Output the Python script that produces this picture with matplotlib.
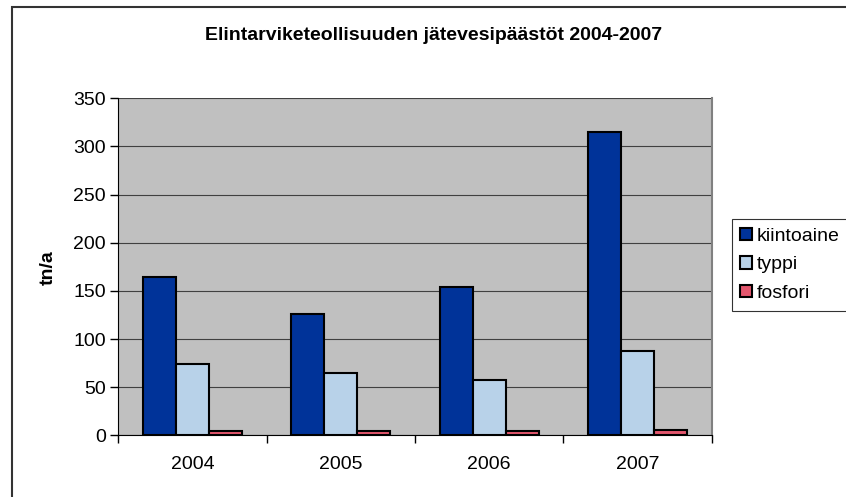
import numpy as np
import matplotlib
matplotlib.use("Agg")
import matplotlib.pyplot as plt
from matplotlib.patches import Rectangle

plt.rcParams['font.family'] = ['Liberation Sans', 'DejaVu Sans']

# Data
vuodet = ['2004', '2005', '2006', '2007']
kiintoaine = [164, 126, 154, 315]
typpi = [74, 65, 57, 88]
fosfori = [5, 4, 4, 6]

sarjat = ['kiintoaine', 'typpi', 'fosfori']
varit = ['#003399', '#B8D2E9', '#E4576E']

fig = plt.figure(figsize=(8.46, 4.97), dpi=100)
# outer chart frame (only left and top edges visible)
fig.add_artist(Rectangle((12 / 846, -0.1), 1.2, (497 - 7) / 497 + 0.1,
                         transform=fig.transFigure, fill=False,
                         edgecolor='#333333', linewidth=1.5))

ax = fig.add_axes([0.1398, 0.1241, 0.7015, 0.6781])
ax.set_facecolor('#C0C0C0')

x = np.arange(len(vuodet))
w = 0.223
for i, (nimi, arvot) in enumerate(zip(sarjat, [kiintoaine, typpi, fosfori])):
    ax.bar(x + (i - 1) * w, arvot, width=w, color=varit[i], edgecolor='black',
           linewidth=1.5, label=nimi, zorder=3)

ax.set_xlim(-0.5, len(vuodet) - 0.5)
ax.set_ylim(0, 350)
ax.set_yticks(np.arange(0, 351, 50))
ax.yaxis.grid(True, color='#404040', linewidth=0.8, zorder=1)
ax.set_axisbelow(True)

ax.set_xticks(x)
ax.set_xticklabels(vuodet, fontsize=14)
ax.set_xticks(np.arange(-0.5, len(vuodet)), minor=True)
ax.tick_params(axis='x', which='major', length=0, pad=15)
ax.tick_params(axis='x', which='minor', length=6, width=1, direction='out')
ax.tick_params(axis='y', length=6, width=1, direction='out', labelsize=14, pad=3)

ax.spines['top'].set_visible(False)
ax.spines['right'].set_color('#808080')
ax.spines['right'].set_linewidth(1.5)
ax.spines['left'].set_color('black')
ax.spines['bottom'].set_color('black')

ax.set_ylabel('tn/a', fontsize=14, fontweight='bold')
ax.yaxis.set_label_coords(57 / 846, 1 - 268 / 497, transform=fig.transFigure)
fig.text(434 / 846, 1 - 36 / 497, 'Elintarviketeollisuuden jätevesipäästöt 2004-2007',
         ha='center', va='center', fontsize=14, fontweight='bold')

leg = ax.legend(loc='upper left', bbox_to_anchor=(731.7 / 846, 1 - 219 / 497),
                bbox_transform=fig.transFigure, fontsize=14, frameon=True,
                fancybox=False, edgecolor='black', handlelength=0.6, handleheight=0.6,
                handletextpad=0.25, borderpad=0.45, labelspacing=0.6, borderaxespad=0)
leg.get_frame().set_linewidth(0.8)
for h in leg.legend_handles:
    h.set_linewidth(1.5)

fig.savefig('out.png', dpi=100)
